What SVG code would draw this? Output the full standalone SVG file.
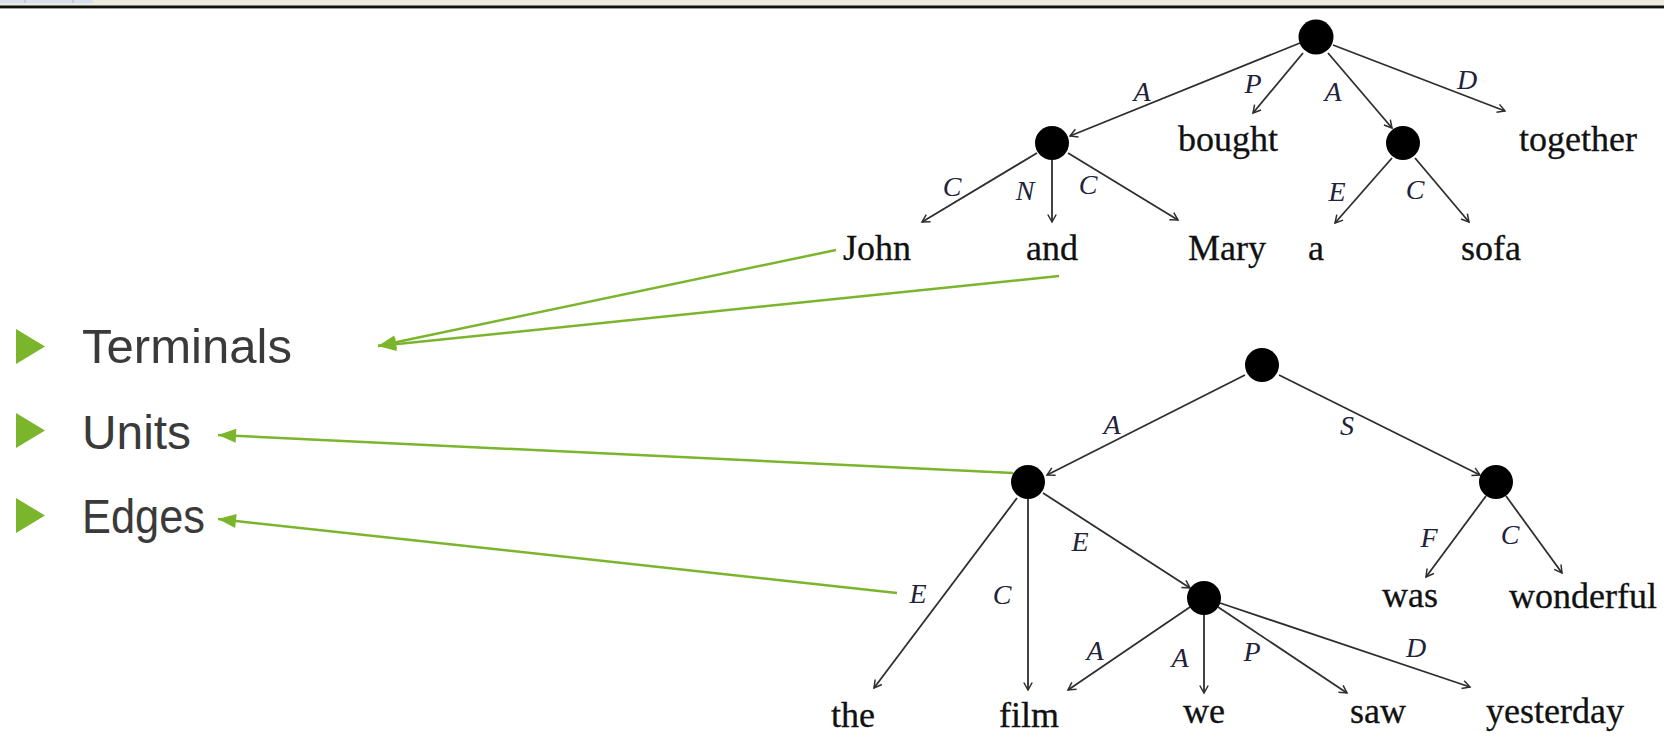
<svg xmlns="http://www.w3.org/2000/svg" width="1664" height="748" viewBox="0 0 1664 748">
<defs>
<style>
.w{font-family:"Liberation Serif","Times New Roman",serif;font-size:36px;fill:#111;text-anchor:middle;stroke:#111;stroke-width:0.3}
.l{font-family:"Liberation Serif","Times New Roman",serif;font-style:italic;font-size:28px;fill:#22223a;text-anchor:middle}
.b{font-family:"Liberation Sans",Arial,sans-serif;font-size:48px;fill:#3a3a3a}
.e{stroke:#2e2e2e;stroke-width:1.8;fill:none;marker-end:url(#ah)}
.g{stroke:#7ab52c;stroke-width:2.5;fill:none}
.n{fill:#000}
</style>
<marker id="ah" markerUnits="userSpaceOnUse" markerWidth="14" markerHeight="14" refX="0" refY="0" viewBox="-10 -7 12 14" orient="auto">
<path d="M-7.5,-4.2 L0,0 L-7.5,4.2" fill="none" stroke="#2e2e2e" stroke-width="1.5"/>
</marker>
<marker id="gh" markerUnits="userSpaceOnUse" markerWidth="22" markerHeight="20" refX="0" refY="0" viewBox="-20 -10 22 20" orient="auto">
<path d="M0,0 L-18,-7 L-18,7 z" fill="#7ab52c"/>
</marker>
</defs>
<rect x="0" y="0" width="1664" height="748" fill="#fff"/>
<rect x="0" y="0" width="1664" height="6" fill="#eeece1"/>
<rect x="0" y="0" width="93" height="3" fill="#d6e0ef"/>
<rect x="24" y="0" width="2" height="3" fill="#bccbe2"/>
<rect x="72" y="0" width="2" height="3" fill="#bccbe2"/>
<rect x="0" y="5.5" width="1664" height="2.5" fill="#111"/>
<rect x="0" y="8" width="1664" height="0.8" fill="#888"/>

<g id="bullets">
<polygon points="16,329 16,364 45,346.5" fill="#7ab52c"/>
<text class="b" x="82" y="363" textLength="210" lengthAdjust="spacingAndGlyphs">Terminals</text>
<polygon points="16,413 16,448 45,430.5" fill="#7ab52c"/>
<text class="b" x="82" y="449" textLength="109" lengthAdjust="spacingAndGlyphs">Units</text>
<polygon points="16,498 16,533 45,515.5" fill="#7ab52c"/>
<text class="b" x="82" y="533" textLength="123" lengthAdjust="spacingAndGlyphs">Edges</text>
</g>

<g id="connectors">
<line class="e" x1="1300" y1="43" x2="1070" y2="136"/>
<line class="e" x1="1303" y1="53" x2="1253" y2="113"/>
<line class="e" x1="1328" y1="53" x2="1392" y2="128"/>
<line class="e" x1="1333" y1="45" x2="1505" y2="111"/>
<line class="e" x1="1037" y1="153" x2="922" y2="222"/>
<line class="e" x1="1052" y1="160" x2="1052" y2="222"/>
<line class="e" x1="1068" y1="153" x2="1178" y2="220"/>
<line class="e" x1="1392" y1="158" x2="1335" y2="223"/>
<line class="e" x1="1415" y1="158" x2="1469" y2="222"/>
<line class="e" x1="1245" y1="375" x2="1047" y2="475"/>
<line class="e" x1="1279" y1="375" x2="1480" y2="475"/>
<line class="e" x1="1017" y1="498" x2="874" y2="688"/>
<line class="e" x1="1028" y1="499" x2="1028" y2="690"/>
<line class="e" x1="1043" y1="493" x2="1190" y2="588"/>
<line class="e" x1="1486" y1="496" x2="1426" y2="577"/>
<line class="e" x1="1506" y1="496" x2="1562" y2="573"/>
<line class="e" x1="1190" y1="607" x2="1068" y2="690"/>
<line class="e" x1="1204" y1="615" x2="1204" y2="693"/>
<line class="e" x1="1218" y1="607" x2="1347" y2="693"/>
<line class="e" x1="1220" y1="603" x2="1470" y2="687"/>
<g id="labels">
<text class="l" x="1142" y="101">A</text>
<text class="l" x="1253" y="93">P</text>
<text class="l" x="1333" y="101">A</text>
<text class="l" x="1467" y="89">D</text>
<text class="l" x="952" y="196">C</text>
<text class="l" x="1025" y="200">N</text>
<text class="l" x="1088" y="194">C</text>
<text class="l" x="1337" y="201">E</text>
<text class="l" x="1415" y="199">C</text>
<text class="l" x="1112" y="434">A</text>
<text class="l" x="1347" y="435">S</text>
<text class="l" x="1080" y="551">E</text>
<text class="l" x="1429" y="547">F</text>
<text class="l" x="1510" y="544">C</text>
<text class="l" x="918" y="603">E</text>
<text class="l" x="1002" y="604">C</text>
<text class="l" x="1095" y="660">A</text>
<text class="l" x="1180" y="667">A</text>
<text class="l" x="1252" y="661">P</text>
<text class="l" x="1416" y="657">D</text>
</g>
<g id="pointers">
<line class="g" x1="836" y1="250" x2="378" y2="346" marker-end="url(#gh)"/>
<line class="g" x1="1059" y1="276" x2="378" y2="346" marker-end="url(#gh)"/>
<line class="g" x1="1013" y1="473" x2="218" y2="435" marker-end="url(#gh)"/>
<line class="g" x1="897" y1="593" x2="218" y2="519" marker-end="url(#gh)"/>
</g>
</g>

<g id="tree1-root"><circle class="n" cx="1316" cy="37" r="17.5"/></g>
<g id="tree1-left"><circle class="n" cx="1052" cy="143" r="17"/></g>
<g id="tree1-right"><circle class="n" cx="1403" cy="143" r="17"/></g>
<g id="w-bought"><text class="w" x="1228" y="151">bought</text></g>
<g id="w-together"><text class="w" x="1578" y="151">together</text></g>
<g id="w-John"><text class="w" x="877" y="260">John</text></g>
<g id="w-and"><text class="w" x="1052" y="260">and</text></g>
<g id="w-Mary"><text class="w" x="1227" y="260">Mary</text></g>
<g id="w-a"><text class="w" x="1316" y="260">a</text></g>
<g id="w-sofa"><text class="w" x="1491" y="260">sofa</text></g>

<g id="tree2-root"><circle class="n" cx="1262" cy="365" r="17"/></g>
<g id="tree2-left"><circle class="n" cx="1028" cy="482" r="17"/></g>
<g id="tree2-right"><circle class="n" cx="1496" cy="482" r="17"/></g>
<g id="tree2-inner"><circle class="n" cx="1204" cy="598" r="17"/></g>
<g id="w-was"><text class="w" x="1410" y="607">was</text></g>
<g id="w-wonderful"><text class="w" x="1583" y="608">wonderful</text></g>
<g id="w-the"><text class="w" x="853" y="727">the</text></g>
<g id="w-film"><text class="w" x="1029" y="727">film</text></g>
<g id="w-we"><text class="w" x="1204" y="723">we</text></g>
<g id="w-saw"><text class="w" x="1378" y="723">saw</text></g>
<g id="w-yesterday"><text class="w" x="1555" y="723">yesterday</text></g>
</svg>
